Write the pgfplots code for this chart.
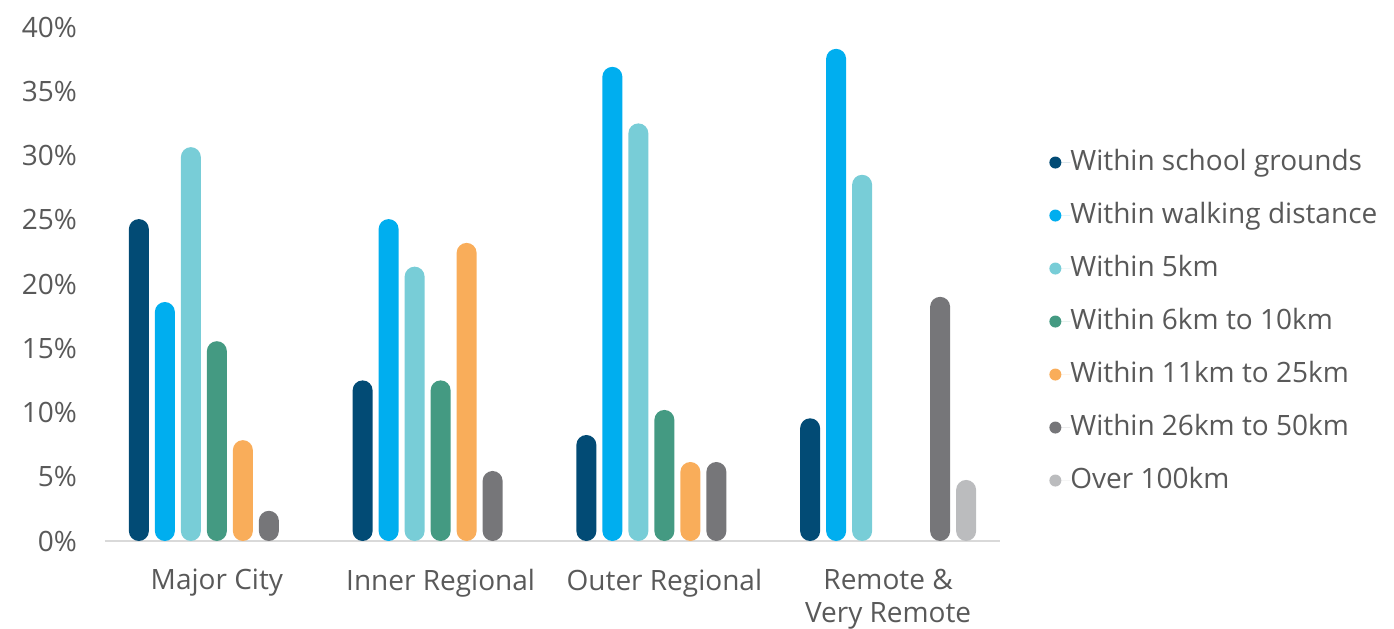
\documentclass[border=0pt]{standalone}
\usepackage{fontspec}
\setmainfont{Open Sans}
\usepackage{pgfplots}
\pgfplotsset{compat=1.18}
\definecolor{cA}{HTML}{024B75}
\definecolor{cB}{HTML}{00AEEF}
\definecolor{cC}{HTML}{78CDD7}
\definecolor{cD}{HTML}{449A82}
\definecolor{cE}{HTML}{F9AD5A}
\definecolor{cF}{HTML}{767679}
\definecolor{cG}{HTML}{BBBCBE}
\definecolor{txt}{HTML}{595959}
\definecolor{axl}{HTML}{D9D9D9}
\begin{document}
\begin{tikzpicture}
\path[use as bounding box] (-52.5pt,-43.5pt) rectangle (644.5pt,270.5pt);
\begin{axis}[
  at={(0,0)}, anchor=south west,
  scale only axis, width=447.5pt, height=257pt,
  xmin=-0.5, xmax=3.5, ymin=0, ymax=40,
  ybar=3pt, bar width=10pt,
  axis x line*=bottom, axis y line*=left,
  x axis line style={-, draw=axl, line width=1.2pt},
  y axis line style={draw=none},
  major tick length=0pt,
  xtick={0,1,2,3},
  xticklabels={Major City, Inner Regional, Outer Regional, {Remote \&\\Very Remote}},
  xticklabel style={align=center, font=\fontsize{14}{16.5}\selectfont, text=txt, yshift=-10.5pt},
  ytick={0,5,...,40},
  /pgf/number format/assume math mode=true,
  yticklabel={\pgfmathprintnumber{\tick}\%},
  yticklabel style={font=\fontsize{14}{16}\selectfont, text=txt, xshift=-10.5pt},
  every axis plot/.append style={draw=none, rounded corners=5pt},
  legend style={at={(1.0547,0.427)}, anchor=west, draw=none, inner sep=0pt,
     font=\fontsize{14}{16}\selectfont, text=txt,
     nodes={inner sep=0pt, text height=10.5pt, text depth=3pt},
     row sep=13pt},
  legend cell align=left,
  legend image code/.code={\fill[#1] (0pt,0pt) circle (3pt); \path (-3pt,0pt) -- (7.5pt,0pt);},
]
\addplot[fill=cA] coordinates {(0,25.05) (1,12.5) (2,8.25) (3,9.55)};
\addplot[fill=cB] coordinates {(0,18.6) (1,25.05) (2,36.9) (3,38.3)};
\addplot[fill=cC] coordinates {(0,30.65) (1,21.35) (2,32.5) (3,28.5)};
\addplot[fill=cD] coordinates {(0,15.55) (1,12.5) (2,10.2)};
\addplot[fill=cE] coordinates {(0,7.85) (1,23.2) (2,6.15)};
\addplot[fill=cF] coordinates {(0,2.35) (1,5.45) (2,6.15) (3,19.0)};
\addplot[fill=cG] coordinates {(3,4.75)};
\legend{Within school grounds, Within walking distance, Within 5km, Within 6km to 10km, Within 11km to 25km, Within 26km to 50km, Over 100km}
\end{axis}
\end{tikzpicture}
\end{document}
